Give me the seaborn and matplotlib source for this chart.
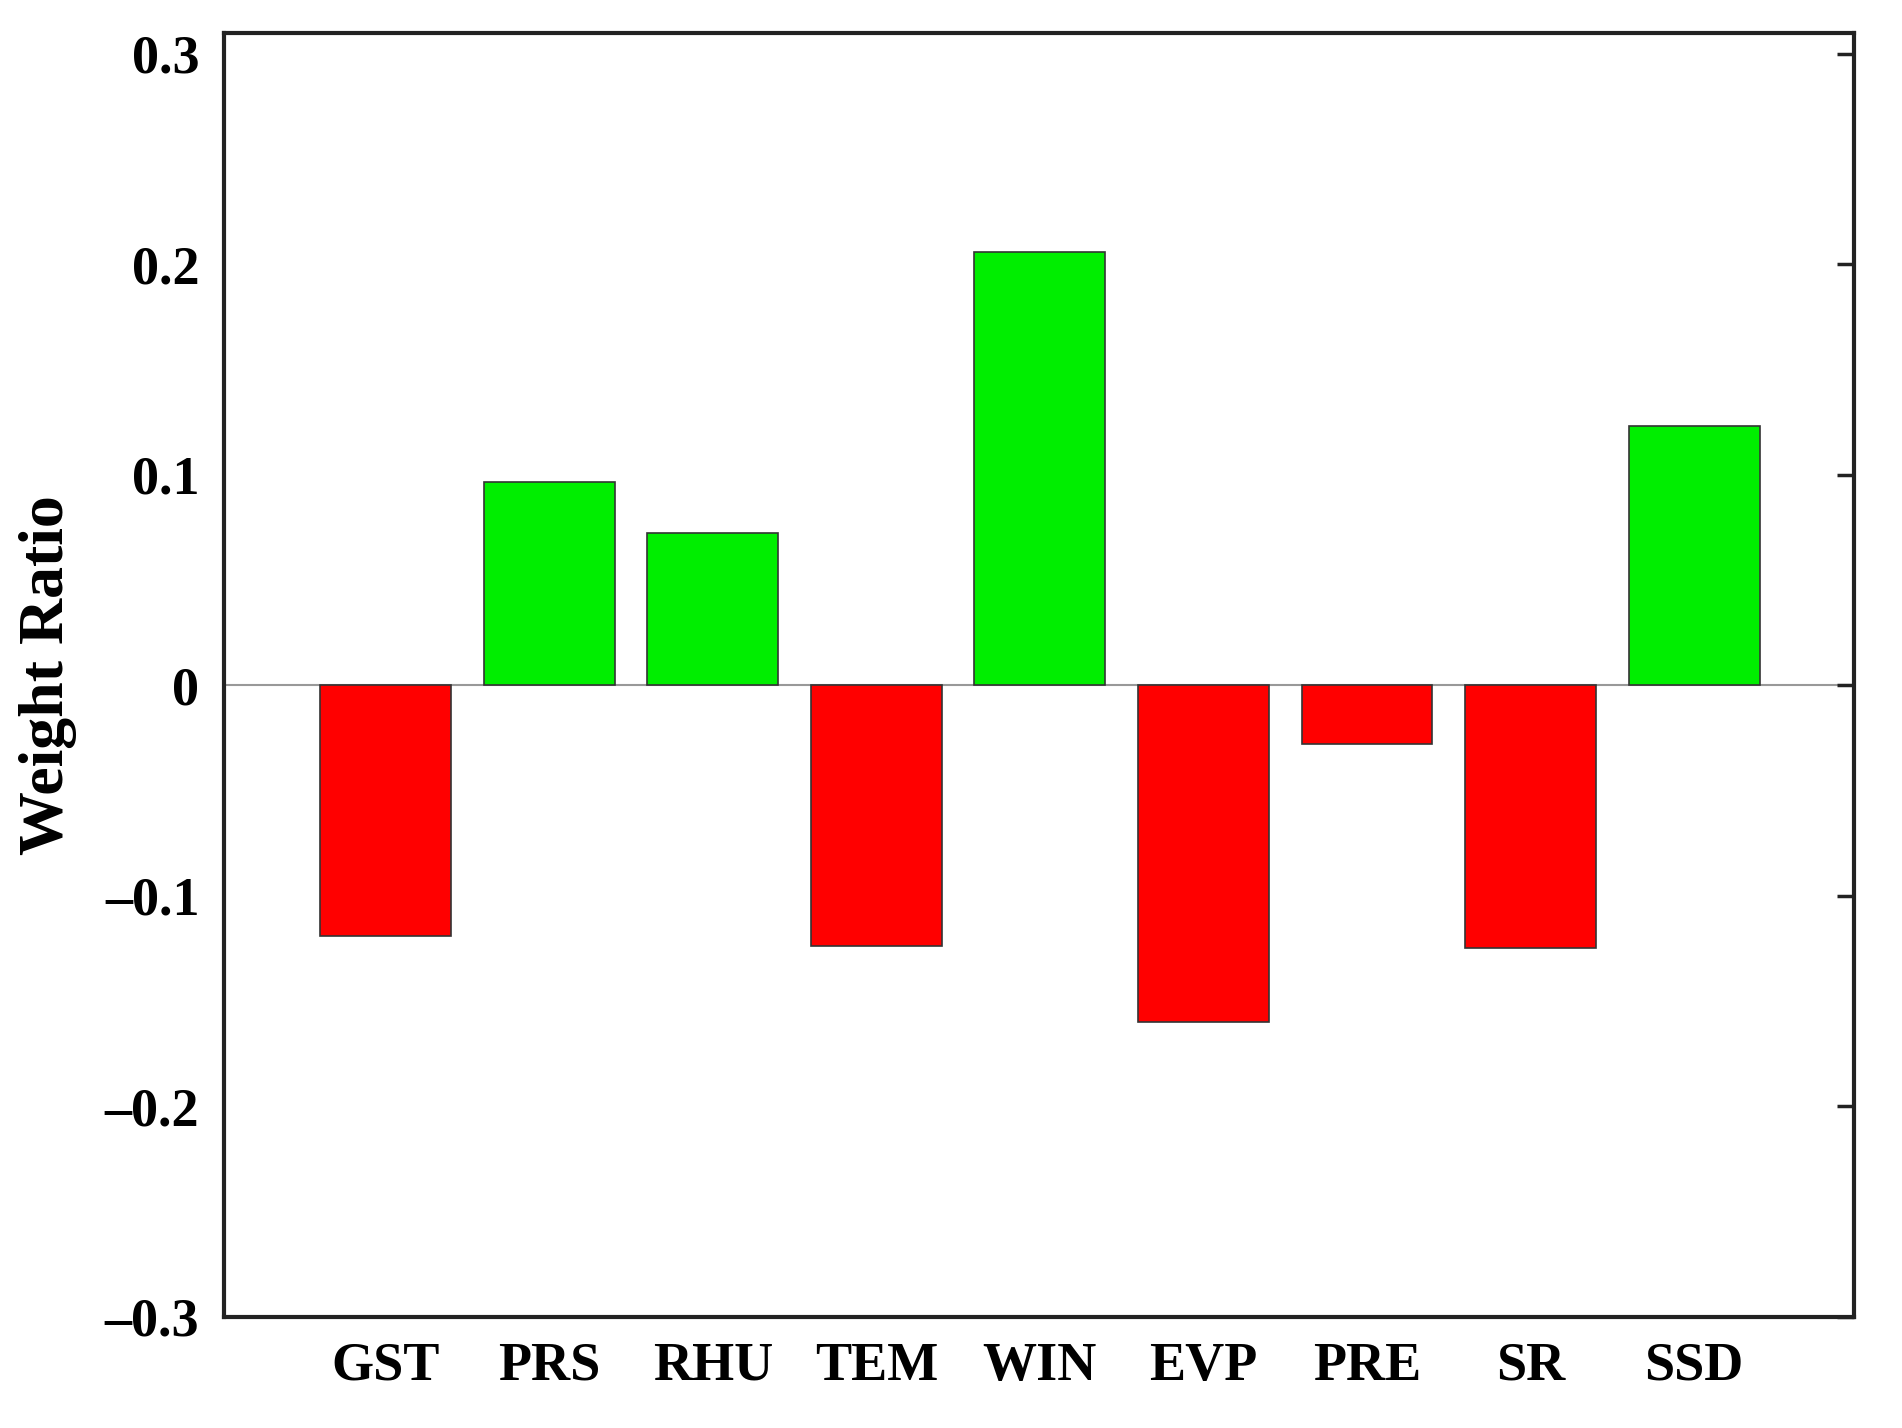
import matplotlib
matplotlib.use("Agg")
import matplotlib.pyplot as plt
import seaborn as sns
import pandas as pd

categories = ["GST", "PRS", "RHU", "TEM", "WIN", "EVP", "PRE", "SR", "SSD"]
values = [-0.119, 0.0966, 0.0724, -0.124, 0.206, -0.160, -0.028, -0.125, 0.123]
yticks = [-0.3, -0.2, -0.1, 0, 0.1, 0.2, 0.3]
ytick_labels = ["\u20130.3", "\u20130.2", "\u20130.1", "0", "0.1", "0.2", "0.3"]

sns.set_style("white")
plt.rcParams["font.family"] = ["Liberation Serif", "DejaVu Serif"]
plt.rcParams["font.weight"] = "bold"
plt.rcParams["text.color"] = "black"

df = pd.DataFrame({"cat": categories, "val": values})
palette = ["#00ee00" if v > 0 else "#ff0000" for v in values]

fig = plt.figure(figsize=(19.02, 14.28), dpi=100)
ax = fig.add_axes([0.118, 0.078, 0.857, 0.899])
sns.barplot(data=df, x="cat", y="val", hue="cat", palette=palette, legend=False,
            width=0.8, edgecolor="#333333", linewidth=1.2, ax=ax, saturation=1)
ax.axhline(0, color="#999999", lw=1.5, zorder=0)
ax.set_xlim(-0.985, 8.98)
ax.set_ylim(-0.3, 0.31)
ax.set_yticks(yticks)
ax.set_yticklabels(ytick_labels)
ax.set_xlabel("")
ax.set_ylabel("Weight Ratio", fontsize=46, fontweight="bold", labelpad=20, color="black")
ax.tick_params(axis="both", direction="in", length=12, width=2.5, labelsize=39,
               top=False, right=True, pad=18, colors="#222222", labelcolor="black")
for lab in ax.get_xticklabels() + ax.get_yticklabels():
    lab.set_fontweight("bold")
for s in ax.spines.values():
    s.set_linewidth(3)
    s.set_color("#222222")
fig.savefig("out.png", dpi=100)
